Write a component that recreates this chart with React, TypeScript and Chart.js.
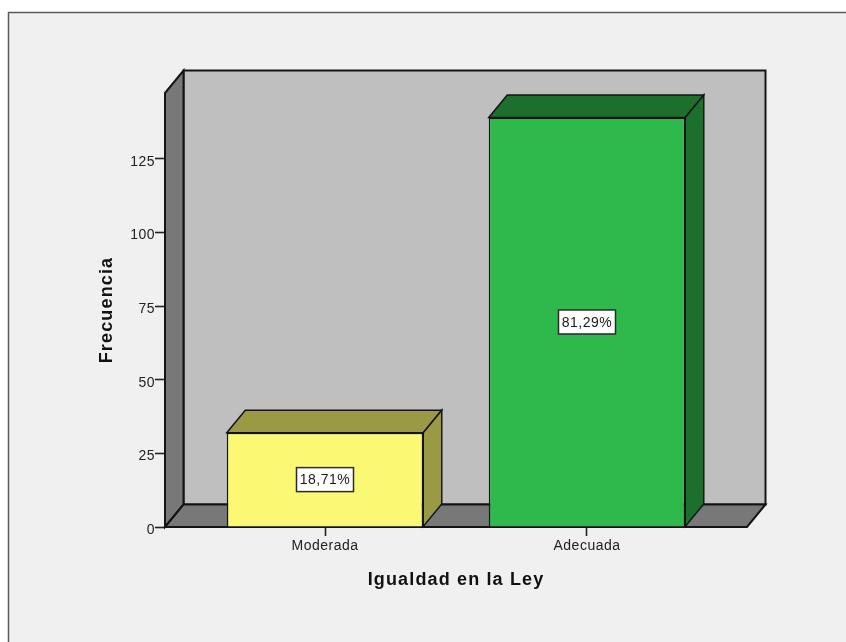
import React, { useEffect, useRef } from "react";
import { Chart, registerables } from "chart.js";

Chart.register(...registerables);

const categories = ["Moderada", "Adecuada"];
const frequencies = [32, 139];
const percentLabels = ["18,71%", "81,29%"];
const frontColors = ["#fbf873", "#2fb84b"];
const shadeColors = ["#9a9a44", "#1d6f2e"];
const yTicks = [0, 25, 50, 75, 100, 125];

const DEPTH_X = 18.5;
const DEPTH_Y = 22.5;
const LINE = "#141414";

function poly(ctx: CanvasRenderingContext2D, pts: number[][], fill: string, lw = 2) {
  ctx.beginPath();
  pts.forEach(([x, y], i) => (i ? ctx.lineTo(x, y) : ctx.moveTo(x, y)));
  ctx.closePath();
  ctx.fillStyle = fill;
  ctx.fill();
  ctx.strokeStyle = LINE;
  ctx.lineWidth = lw;
  ctx.lineJoin = "miter";
  ctx.stroke();
}

const pagePlugin = {
  id: "page",
  afterLayout(chart: any) {
    // Wider glyph spacing for tick labels, wider still for the axis titles.
    const { ctx } = chart;
    ctx.letterSpacing = "0.5px";
    [chart.scales.x, chart.scales.y].forEach((s: any) => {
      const draw = s.drawTitle;
      s.drawTitle = function () {
        ctx.save();
        ctx.letterSpacing = "1.15px";
        draw.call(this);
        ctx.restore();
      };
    });
  },
  beforeDraw(chart: any) {
    const { ctx, width, height } = chart;
    ctx.save();
    ctx.fillStyle = "#ffffff";
    ctx.fillRect(0, 0, width, height);
    ctx.fillStyle = "#f0f0f0";
    ctx.fillRect(8, 12, width - 8, height - 12);
    ctx.strokeStyle = "#5a5a5a";
    ctx.lineWidth = 1.5;
    ctx.beginPath();
    ctx.moveTo(8.5, height);
    ctx.lineTo(8.5, 12.5);
    ctx.lineTo(width, 12.5);
    ctx.stroke();
    ctx.restore();
  },
};

const boxPlugin = {
  id: "box3d",
  beforeDatasetsDraw(chart: any) {
    const { ctx, chartArea: a } = chart;
    const dx = DEPTH_X;
    const dy = DEPTH_Y;
    ctx.save();
    poly(ctx, [[a.left + dx, a.top - dy], [a.right + dx, a.top - dy], [a.right + dx, a.bottom - dy], [a.left + dx, a.bottom - dy]], "#bfbfbf");
    poly(ctx, [[a.left, a.top], [a.left + dx, a.top - dy], [a.left + dx, a.bottom - dy], [a.left, a.bottom]], "#787878");
    poly(ctx, [[a.left, a.bottom], [a.left + dx, a.bottom - dy], [a.right + dx, a.bottom - dy], [a.right, a.bottom]], "#787878");
    const meta = chart.getDatasetMeta(0);
    meta.data.forEach((bar: any, i: number) => {
      const l = bar.x - bar.width / 2;
      const r = bar.x + bar.width / 2;
      poly(ctx, [[l, bar.y], [l + dx, bar.y - dy], [r + dx, bar.y - dy], [r, bar.y]], shadeColors[i], 1.5);
      poly(ctx, [[r, bar.y], [r + dx, bar.y - dy], [r + dx, bar.base - dy], [r, bar.base]], shadeColors[i], 1.5);
    });
    ctx.restore();
  },
  afterDatasetsDraw(chart: any) {
    const { ctx } = chart;
    const meta = chart.getDatasetMeta(0);
    ctx.save();
    ctx.font = "14px 'Liberation Sans'";
    ctx.textAlign = "center";
    ctx.textBaseline = "middle";
    meta.data.forEach((bar: any, i: number) => {
      const cx = bar.x;
      const cy = (bar.y + bar.base) / 2;
      const w = 57;
      const h = 24;
      ctx.fillStyle = "#ffffff";
      ctx.strokeStyle = "#2a2a2a";
      ctx.lineWidth = 1.5;
      ctx.fillRect(cx - w / 2, cy - h / 2, w, h);
      ctx.strokeRect(cx - w / 2, cy - h / 2, w, h);
      ctx.fillStyle = "#1a1a1a";
      ctx.fillText(percentLabels[i], cx, cy + 1);
    });
    ctx.restore();
  },
};

export default function App() {
  const ref = useRef<HTMLCanvasElement | null>(null);
  useEffect(() => {
    const chart = new Chart(ref.current as HTMLCanvasElement, {
      type: "bar",
      data: {
        datasets: [
          {
            data: categories.map((_, i) => ({ x: i, y: frequencies[i] })),
            backgroundColor: frontColors,
            borderColor: LINE,
            borderWidth: 1.5,
            barPercentage: 0.75,
            categoryPercentage: 1,
          },
        ],
      },
      options: {
        animation: false,
        responsive: false,
        devicePixelRatio: 1,
        layout: { padding: { left: 0, top: 93, right: 99, bottom: 0 } },
        plugins: { legend: { display: false }, tooltip: { enabled: false }, title: { display: false } },
        scales: {
          x: {
            type: "linear",
            offset: false,
            min: -0.6107,
            max: 1.6107,
            afterBuildTicks(s: any) {
              s.ticks = categories.map((_, i) => ({ value: i }));
            },
            afterFit(s: any) {
              s.height = 115;
            },
            grid: { display: true, offset: false, drawOnChartArea: false, tickLength: 9, tickColor: "#222", tickWidth: 1.6 },
            border: { display: false },
            ticks: {
              autoSkip: false,
              maxRotation: 0,
              padding: 2,
              color: "#222",
              font: { family: "'Liberation Sans'", size: 14 },
              callback: (v: any) => categories[v],
            },
            title: {
              display: true,
              text: "Igualdad en la Ley",
              color: "#111",
              font: { family: "'Liberation Sans'", size: 18, weight: "bold" },
              padding: { top: 0, bottom: 51 },
            },
          },
          y: {
            type: "linear",
            min: 0,
            max: 147.3,
            afterBuildTicks(s: any) {
              s.ticks = yTicks.map((value) => ({ value }));
            },
            afterFit(s: any) {
              s.width = 165;
            },
            grid: { display: true, drawOnChartArea: false, tickLength: 10, tickColor: "#222", tickWidth: 1.6 },
            border: { display: false },
            ticks: {
              padding: 0,
              labelOffset: 3,
              color: "#222",
              font: { family: "'Liberation Sans'", size: 14 },
            },
            title: {
              display: true,
              text: "Frecuencia",
              color: "#111",
              font: { family: "'Liberation Sans'", size: 18, weight: "bold" },
              padding: { top: 96, bottom: 0 },
            },
          },
        },
      },
      plugins: [pagePlugin, boxPlugin],
    } as any);
    return () => chart.destroy();
  }, []);
  return (
    <canvas
      ref={ref}
      width={846}
      height={642}
      style={{ position: "absolute", left: 0, top: 0, display: "block", width: 846, height: 642, filter: "blur(0.4px)" }}
    />
  );
}
